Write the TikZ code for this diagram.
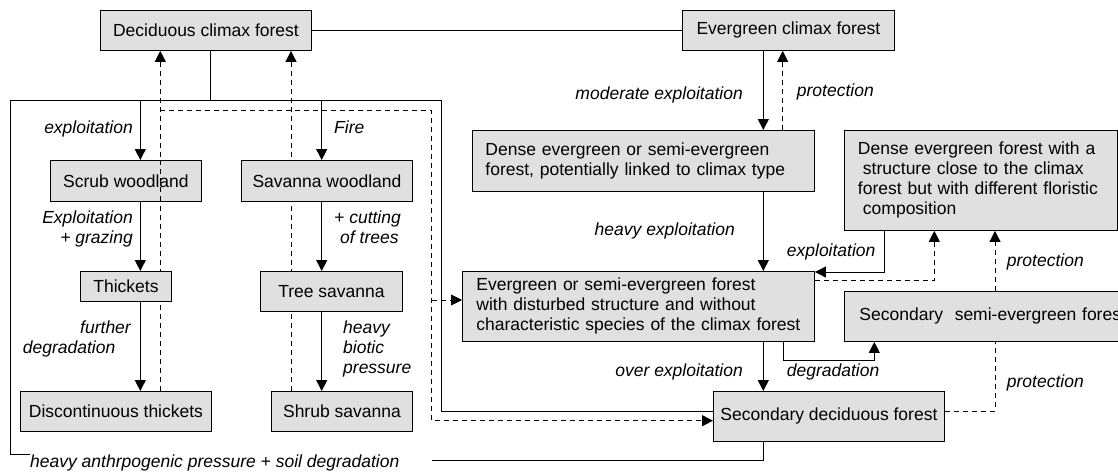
\documentclass[tikz,border=0pt]{standalone}
\usepackage{fontspec}
\setmainfont{Liberation Sans}
\usetikzlibrary{arrows.meta,backgrounds}
\definecolor{boxfill}{RGB}{224,224,224}
\begin{document}
\begin{tikzpicture}[x=1pt,y=-1pt,
  font=\fontsize{17.5}{20}\selectfont,
  box/.style={draw, fill=boxfill, line width=0.9pt, inner sep=0pt, anchor=north west, align=center},
  lbl/.style={inner sep=0pt, font=\fontsize{17.5}{20}\selectfont\itshape},
  line/.style={line width=0.9pt},
  dline/.style={line width=0.9pt, dash pattern=on 5pt off 4pt},
  arr/.style={line width=0.9pt, -{Triangle[width=11pt,length=11pt]}},
  darr/.style={line width=0.9pt, dash pattern=on 5pt off 4pt, -{Triangle[width=11pt,length=11pt]}}]
\useasboundingbox (0,0) rectangle (1118,474);
\clip (0,0) rectangle (1118,474);

% boxes
\node[box, minimum width=211pt, minimum height=40pt] (dec) at (100,10) {Deciduous climax forest};
\node[box, minimum width=212pt, minimum height=40pt] (evc) at (682,10) {Evergreen climax forest};
\node[box, minimum width=151pt, minimum height=41pt] (scrub) at (50,160) {Scrub woodland};
\node[box, minimum width=171pt, minimum height=41pt] (savw) at (241,160) {Savanna woodland};
\node[box, minimum width=91pt, minimum height=30pt] (thick) at (80,271) {Thickets};
\node[box, minimum width=142pt, minimum height=40pt] (trees) at (260,271) {Tree savanna};
\node[box, minimum width=191pt, minimum height=40pt] (disc) at (20,391) {Discontinuous thickets};
\node[box, minimum width=141pt, minimum height=40pt] (shrub) at (271,391) {Shrub savanna};
\node[box, minimum height=61pt, text width=316pt, inner xsep=13pt, align=left] (dense) at (472,130)
  {Dense evergreen or semi-evergreen\\forest, potentially linked to climax type};
\node[box, minimum height=70pt, text width=324pt, inner xsep=14pt, align=left] (dist) at (462,271)
  {Evergreen or semi-evergreen forest\\with disturbed structure and without\\characteristic species of the climax forest};
\node[box, minimum width=231pt, minimum height=50pt] (sdec) at (713,391) {Secondary deciduous forest};
\node[box, minimum height=100pt, text width=246pt, inner xsep=13.5pt, align=left] (dclose) at (844,130)
  {Dense evergreen forest with a\\\hspace*{5pt}structure close to the climax\\forest but with different floristic\\\hspace*{5pt}composition};
\node[box, minimum height=50pt, text width=300pt, inner xsep=15pt, align=left] (ssemi) at (844,291)
  {Secondary\ \ semi-evergreen forest};

% coordinates
\coordinate (tA) at (210,100);
\coordinate (tL) at (10,100);
\coordinate (tR) at (441.7,100);
\coordinate (tRb) at (441.7,411.7);
\coordinate (tLb) at (10,454);
\coordinate (hpL) at (30,454);
\coordinate (hpR) at (432,460);
\coordinate (hpC) at (763,460);
\coordinate (cL) at (140.3,0);
\coordinate (cM) at (321.7,0);
\coordinate (dL) at (160.3,110);
\coordinate (dM) at (291,0);
\coordinate (dR) at (431.7,110);
\coordinate (dRb) at (431.7,420.7);
\coordinate (dRm) at (431.7,300);
\coordinate (eR) at (763.3,0);
\coordinate (eP) at (782.7,0);
\coordinate (xE) at (884.3,272);
\coordinate (pD) at (934.3,280.7);
\coordinate (gA) at (783.3,360.7);
\coordinate (gB) at (874.3,360.7);
\coordinate (pS) at (995,411);

\begin{pgfonlayer}{background}
% solid tree
\draw[line] (dec.south -| tA) -- (tA);
\draw[line] (hpL) -- (tLb) -- (tL) -- (tR) -- (tRb) -- (sdec.west |- tRb);
\draw[line] (hpR) -- (hpC) -- (sdec.south -| hpC);
\draw[arr] (cL |- tL) -- (cL |- scrub.north);
\draw[arr] (cM |- tL) -- (cM |- savw.north);
\draw[arr] (cL |- scrub.south) -- (cL |- thick.north);
\draw[arr] (cL |- thick.south) -- (cL |- disc.north);
\draw[arr] (cM |- savw.south) -- (cM |- trees.north);
\draw[arr] (cM |- trees.south) -- (cM |- shrub.north);
% dashed returns
\draw[darr] (dL |- disc.north) -- (dL |- dec.south);
\draw[darr] (dM |- shrub.north) -- (dM |- dec.south);
\draw[darr] (dL) -- (dR) -- (dRb) -- (sdec.west |- dRb);
\draw[darr] (dRm) -- (dist.west |- dRm);
% right part
\draw[line] (dec.east) -- (evc.west);
\draw[arr] (eR |- evc.south) -- (eR |- dense.north);
\draw[darr] (eP |- dense.north) -- (eP |- evc.south);
\draw[arr] (eR |- dense.south) -- (eR |- dist.north);
\draw[arr] (eR |- dist.south) -- (eR |- sdec.north);
\draw[arr] (xE |- dclose.south) -- (xE) -- (dist.east |- xE);
\draw[darr] (dist.east |- pD) -- (pD) -- (pD |- dclose.south);
\draw[arr] (gA |- dist.south) -- (gA) -- (gB) -- (gB |- ssemi.south);
\draw[darr] (pS |- ssemi.north) -- (pS |- dclose.south);
\draw[dline] (sdec.east |- pS) -- (pS) -- (pS |- ssemi.south);
\end{pgfonlayer}
\draw[dline] (dL |- scrub.north) -- (dL |- scrub.south);

% labels
\node[lbl, anchor=base east] (l1) at (133,133) {exploitation};
\node[lbl, anchor=base east] (l2) at (133,223) {Exploitation};
\node[lbl, anchor=base east] (l3) at (133,243) {+ grazing};
\node[lbl, anchor=base east] (l4) at (131,333) {further};
\node[lbl, anchor=base west] (l5) at (22.7,353) {degradation};
\node[lbl, anchor=base west] (l6) at (334,133) {Fire};
\node[lbl, anchor=base west] (l7) at (334,223) {+ cutting};
\node[lbl, anchor=base west] (l8) at (340,243) {of trees};
\node[lbl, anchor=base west] (l9) at (343,333) {heavy};
\node[lbl, anchor=base west] (l10) at (343,353) {biotic};
\node[lbl, anchor=base west] (l11) at (343,373) {pressure};
\node[lbl, anchor=base east] (l12) at (743,99.5) {moderate exploitation};
\node[lbl, anchor=base west] (l13) at (796.7,96.7) {protection};
\node[lbl, anchor=base east] (l14) at (735,235) {heavy exploitation};
\node[lbl, anchor=base west] (l15) at (786.7,256.7) {exploitation};
\node[lbl, anchor=base west] (l16) at (1006.7,266.7) {protection};
\node[lbl, anchor=base east] (l17) at (743,376.7) {over exploitation};
\node[lbl, anchor=base west] (l18) at (786.7,376.7) {degradation};
\node[lbl, anchor=base west] (l19) at (1006.7,387) {protection};
\node[lbl, anchor=base west] (l20) at (30,467) {heavy anthrpogenic pressure + soil degradation};
\end{tikzpicture}
\end{document}
